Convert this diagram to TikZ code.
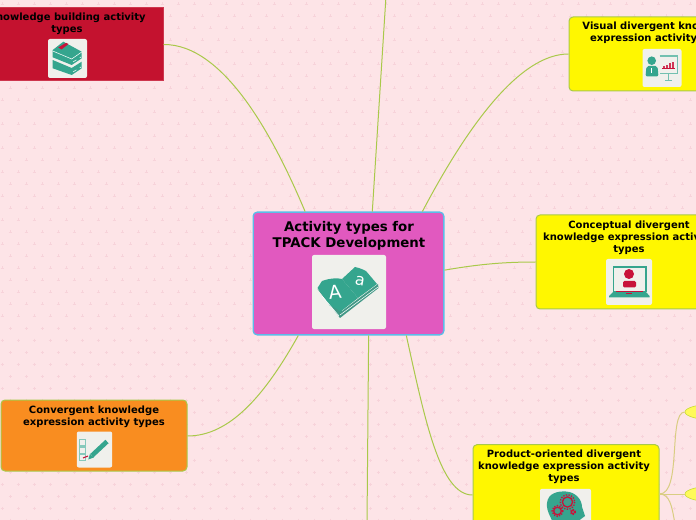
\documentclass[tikz,border=0pt]{standalone}
\usepackage{fontspec}
\usetikzlibrary{shapes.geometric}
\setmainfont{DejaVu Sans}
\definecolor{bgpink}{HTML}{FDE4E7}
\definecolor{plusc}{HTML}{F7D3DA}
\definecolor{linkc}{HTML}{A9C94A}
\definecolor{subc}{HTML}{D9CD82}
\definecolor{teal}{HTML}{35A58E}
\definecolor{crim}{HTML}{C8123A}
\definecolor{iconbg}{HTML}{F0F0EC}
\definecolor{rootc}{HTML}{E159BF}
\definecolor{rootb}{HTML}{5BBDE8}
\definecolor{yel}{HTML}{FFF700}
\definecolor{orng}{HTML}{F98D20}
\definecolor{redc}{HTML}{C4122F}
\tikzset{
  x=0.75pt,y=-0.75pt,
  topicbox/.style={draw=linkc,line width=0.75pt,rounded corners=3pt,inner sep=0pt},
  rootbox/.style={draw=rootb,fill=rootc,line width=1pt,rounded corners=3pt,inner sep=0pt,minimum width=143pt,minimum height=92pt},
  redbox/.style={draw=redc!85!white,fill=redc,line width=0.75pt,inner sep=0pt,minimum width=144pt,minimum height=54.75pt},
  leaf/.style={ellipse,draw=linkc!70!yellow,fill=yel!65!white,inner sep=0pt,minimum width=45pt,minimum height=12pt},
  ttl/.style={anchor=north,align=center,font=\fontsize{7.5}{9}\selectfont\bfseries,inner sep=0pt},
  ttlroot/.style={anchor=north,align=center,font=\fontsize{10}{12}\selectfont\bfseries,inner sep=0pt},
  iconbox/.style={fill=iconbg,rounded corners=1.5pt,inner sep=0pt},
  conn/.style={draw=linkc,line width=0.75pt},
  subconn/.style={draw=subc,line width=0.75pt}
}
\begin{document}
\begin{tikzpicture}
\path[use as bounding box,clip] (0,0) rectangle (696,520);
\fill[bgpink] (0,0) rectangle (696,520);
\foreach \r in {0,...,43}{
  \pgfmathsetmacro{\ox}{mod(\r,2)*8}
  \foreach \c in {0,...,44}{
    \pgfmathsetmacro{\px}{\ox+\c*16+2}
    \pgfmathsetmacro{\py}{\r*12+4}
    \draw[plusc,line width=0.4pt] (\px-1.5,\py) -- (\px+1.5,\py) (\px,\py-1.5) -- (\px,\py+1.5);
  }
}
% nodes
\node[redbox] (redn) at (67,44.5) {};
\node[ttl] (redt) at (67,12.5) {Knowledge building activity\\types};
\node[topicbox,fill=yel,minimum width=139.5pt,minimum height=55.5pt] (visual) at (662,54) {};
\node[ttl] (visualt) at (661,22) {Visual divergent knowledge\\expression activity types};
\node[topicbox,fill=yel,minimum width=139.5pt,minimum height=70.5pt] (concept) at (629,262) {};
\node[ttl] (conceptt) at (629,220.5) {Conceptual divergent\\knowledge expression activity\\types};
\node[topicbox,fill=orng,minimum width=139.5pt,minimum height=53.25pt] (converge) at (94,435.5) {};
\node[ttl] (converget) at (94,405.5) {Convergent knowledge\\expression activity types};
\node[topicbox,fill=yel,minimum width=139.5pt,minimum height=86pt] (product) at (566,502) {};
\node[ttl] (productt) at (564,450) {Product-oriented divergent\\knowledge expression activity\\types};
\node[rootbox] (root) at (348.5,273.5) {};
\node[ttlroot] (roott) at (349,221.5) {Activity types for\\TPACK Development};
\node[leaf] (leafa) at (715,412) {};
\node[leaf] (leafb) at (715,494) {};
\coordinate (leafc) at (690,545);
\coordinate (topend) at (386,-4);
\coordinate (botend) at (367,524);
% connectors
\draw[conn] (root.125.9) .. controls (275,140) and (225,44) .. (redn.east);
\draw[conn] (root.69.6) -- (topend);
\draw[conn] (root.40.5) .. controls (468,125) and (520,54) .. (visual.west);
\draw[conn] (root.2.7) .. controls (480,264) and (505,262) .. (concept.west);
\draw[conn] (root.-47) .. controls (425,420) and (440,495) .. (product.west |- 0,495);
\draw[conn] (root.-72.4) -- (botend);
\draw[conn] (root.-129.4) .. controls (265,395) and (230,436) .. (converge.east |- 0,436);
\coordinate (pout) at (product.east |- 0,494);
\draw[subconn] (pout) .. controls (682,494) and (668,412) .. (leafa.west);
\draw[subconn] (pout) -- (leafb.west);
\draw[subconn] (pout) .. controls (680,494) and (668,545) .. (leafc);
% root icon: open book
\node[iconbox,minimum width=55.5pt,minimum height=55.5pt] (iconroot) at (349,292) {};
\fill[teal!85!black!90] (317.5,289) -- (340,318) -- (378.5,288) -- (378,284) -- (358,299) -- (342,311) -- cycle;
\fill[teal] (317.5,288) -- (322,281) .. controls (330,278) and (338,278) .. (342,279) -- (358,298) -- (340,312) .. controls (337,308) and (333,307) .. (330,306) -- cycle;
\fill[teal] (342,279) -- (355,267) .. controls (360,268) and (364,270) .. (366,271) -- (377,284) -- (358,298) -- cycle;
\draw[white,line width=0.4pt] (340,315) -- (378,287) (322,296) -- (339,316);
\node[text=white,font=\fontsize{14}{14}\selectfont,rotate=6,inner sep=0pt] (glyphA) at (335,292) {A};
\node[text=white,font=\fontsize{12}{12}\selectfont,rotate=-10,inner sep=0pt] (glypha) at (360,281) {a};
% red box icon: books
\node[iconbox,minimum width=29.25pt,minimum height=29.25pt] (iconred) at (67.5,58.5) {};
\fill[teal] (52.7,50) -- (63.3,41.7) -- (81.7,51.7) -- (81.7,58.3) -- (71.7,65) -- (52.7,57.3) -- cycle;
\fill[teal] (52.7,60) -- (71.7,68) -- (81.7,61.7) -- (81.7,68.3) -- (71.7,75) -- (52.7,68.3) -- cycle;
\draw[white,line width=0.4pt] (52.7,51) -- (71.7,59) -- (81.7,52);
\draw[white,line width=0.4pt,dashed] (73,62) -- (81,57) (73,72) -- (81,67);
\fill[crim] (58.3,47.5) -- (66,42.8) -- (68.5,44) -- (61.5,49.5) -- cycle;
% visual icon
\node[iconbox,minimum width=29.25pt,minimum height=28.5pt] (iconvis) at (662,68) {};
\fill[teal] (651.7,60.7) circle[radius=4.3];
\fill[teal,rounded corners=1.5pt] (645.5,76.5) -- (646.5,66) -- (657.5,66) -- (658.5,76.5) -- cycle;
\fill[white] (651.2,68) rectangle (652.2,73);
\draw[teal!70,line width=1pt] (659.5,56) -- (677.5,56) -- (677.5,73.5) -- (660,73.5) (668.5,73.5) -- (668.5,80) (665,80.5) -- (672,80.5);
\fill[crim] (661.5,68) rectangle (675,69);
\foreach \xx/\hh in {663/1.5,666/3,669/4.5,672/6}{\fill[crim!85] (\xx,68) rectangle (\xx+2,68-\hh);}
% laptop icon
\node[iconbox,minimum width=34.5pt,minimum height=34.5pt] (iconcon) at (629,282) {};
\draw[teal,line width=1pt,fill=iconbg] (613.5,267) rectangle (646,291.5);
\fill[teal] (613,292) -- (646,292) -- (649.5,296) -- (649.5,297.5) -- (609,297.5) -- (609,296) -- cycle;
\fill[crim] (629,274) circle[radius=5];
\fill[crim,rounded corners=1pt] (623,287.5) -- (623,281) -- (636,281) -- (636,287.5) -- cycle;
\fill[crim] (616,291) rectangle (643,292);
\fill[crim] (626,293.5) rectangle (632,294.3);
% check icon
\node[iconbox,minimum width=26.5pt,minimum height=27pt] (iconchk) at (94.5,449.5) {};
\foreach \ya/\yb in {439.5/446,447.5/453.5,454.5/460.5}{
  \draw[teal!60,line width=0.8pt] (79.8,\ya) rectangle (85.8,\yb);
}
\draw[crim,line width=0.8pt] (83,458) -- (88,456);
\draw[teal,line width=3.5pt] (92,455.5) -- (107,441.5);
\fill[teal] (88.3,459.5) -- (90,453.8) -- (93.8,457.5) -- cycle;
% head icon
\node[iconbox,minimum width=38.25pt,minimum height=52pt,anchor=north] (iconprod) at (565.5,488.5) {};
\fill[teal] (556,530) .. controls (552,518) and (546,512) .. (547,503) .. controls (548,493) and (558,491) .. (566,491.5) .. controls (576,492) and (582,500) .. (582,507) -- (585,516) -- (577,522) -- (576,530) -- cycle;
\foreach \cx/\cy/\ro/\ri in {567.5/502/6/2.5,557.5/511/4.5/2,573/512/2/0.8}{
  \draw[crim,line width=1pt,densely dotted] (\cx,\cy) circle[radius=\ro*1.2];
  \draw[crim,line width=1pt] (\cx,\cy) circle[radius=\ro*0.85];
  \fill[teal!70!gray] (\cx,\cy) circle[radius=\ri];
}
\end{tikzpicture}
\end{document}
